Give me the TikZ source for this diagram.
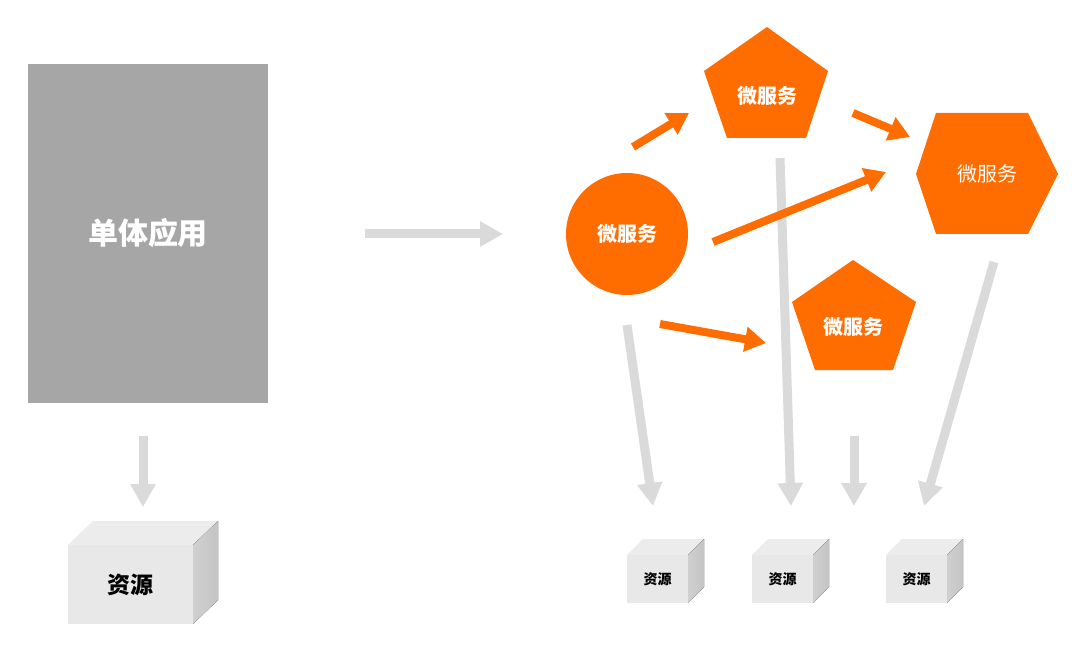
\documentclass[tikz,border=0pt]{standalone}
\usepackage{fontspec}
\setmainfont{Noto Sans CJK SC}
\usetikzlibrary{arrows.meta}
\definecolor{orng}{RGB}{255,108,0}
\definecolor{monogray}{RGB}{166,166,166}
\definecolor{arrgray}{RGB}{218,218,218}
\definecolor{boxfront}{RGB}{232,232,232}
\definecolor{boxtop}{RGB}{236,236,236}
\definecolor{boxside}{RGB}{196,196,196}
\begin{document}
\begin{tikzpicture}[x=1pt,y=-1pt,
  garrow/.style={draw=arrgray,line width=9pt,-{Triangle[length=23pt,width=24pt]}},
  oarrow/.style={draw=orng,line width=8pt,-{Triangle[length=21pt,width=24pt]}},
  shapefill/.style={fill=orng,draw=none},
  svc/.style={text=white,font=\bfseries\fontsize{20}{20}\selectfont,inner sep=0pt},
  boxfront/.style={fill=boxfront,draw=none,inner sep=0pt,outer sep=0pt},
  boxtopface/.style={fill=boxtop,draw=none},
  boxsideface/.style={left color=boxside!80!white,right color=boxside,draw=none},
]
\useasboundingbox (0,0) rectangle (1080,647);
\fill[white] (0,0) rectangle (1080,647);

% monolith
\node[fill=monogray,minimum width=240pt,minimum height=339pt,inner sep=0pt,
  text=white,font=\bfseries\fontsize{30}{30}\selectfont] (mono) at (148,233.5) {单体应用};

% big resource box
\node[boxfront,minimum width=125pt,minimum height=79pt,
  font=\bfseries\fontsize{23}{23}\selectfont] (res) at (130.5,584.5) {资源};
\fill[boxtopface] (res.north west) -- ++(25,-24) -- ++(125,0) -- (res.north east) -- cycle;
\fill[boxsideface] (res.north east) -- ++(25,-24) -- ++(0,79) -- (res.south east) -- cycle;

\coordinate (m1) at (143,436);
\coordinate (m2) at (143,507);
\draw[garrow] (m1) -- (m2);

% transition arrow
\coordinate (t1) at (365,234);
\coordinate (t2) at (503,234);
\draw[garrow] (t1) -- (t2);

% small resource boxes
\foreach \n/\cx in {r1/657.5, r2/782.5, r3/916.5}{
  \node[boxfront,minimum width=61pt,minimum height=48pt,
    font=\bfseries\fontsize{14}{14}\selectfont] (\n) at (\cx,579) {资源};
  \fill[boxtopface] (\n.north west) -- ++(16,-16) -- ++(61,0) -- (\n.north east) -- cycle;
  \fill[boxsideface] (\n.north east) -- ++(16,-16) -- ++(0,48) -- (\n.south east) -- cycle;
}

% gray arrows down to resources
\coordinate (a1) at (627,325);  \coordinate (a2) at (653,506);
\coordinate (b1) at (780,158);  \coordinate (b2) at (791,506);
\coordinate (c1) at (854,436);  \coordinate (c2) at (854,506);
\coordinate (d1) at (994,262);  \coordinate (d2) at (924,506);
\draw[garrow] (a1) -- (a2);
\draw[garrow] (b1) -- (b2);
\draw[garrow] (c1) -- (c2);
\draw[garrow] (d1) -- (d2);

% microservices
\fill[shapefill] (627,234) circle (61);
\node[svc] (s1) at (627,234) {微服务};

\fill[shapefill] (767,27) -- (828,71) -- (806,138) -- (727,138) -- (704,71) -- cycle;
\node[svc] (s2) at (767,96) {微服务};

\fill[shapefill] (936,113) -- (1028,113) -- (1058,174) -- (1028,234) -- (936,234) -- (916,174) -- cycle;
\node[svc,font=\fontsize{20}{20}\selectfont] (s3) at (987,174) {微服务};

\fill[shapefill] (853,260) -- (916,302) -- (893,370) -- (815,370) -- (792,302) -- cycle;
\node[svc] (s4) at (853,327) {微服务};

% orange arrows
\coordinate (o1a) at (633,147); \coordinate (o1b) at (689,113);
\coordinate (o2a) at (853,113); \coordinate (o2b) at (910,137);
\coordinate (o3a) at (713,242); \coordinate (o3b) at (886,172);
\coordinate (o4a) at (660,324); \coordinate (o4b) at (766,343);
\draw[oarrow] (o1a) -- (o1b);
\draw[oarrow] (o2a) -- (o2b);
\draw[oarrow] (o3a) -- (o3b);
\draw[oarrow] (o4a) -- (o4b);
\end{tikzpicture}
\end{document}
